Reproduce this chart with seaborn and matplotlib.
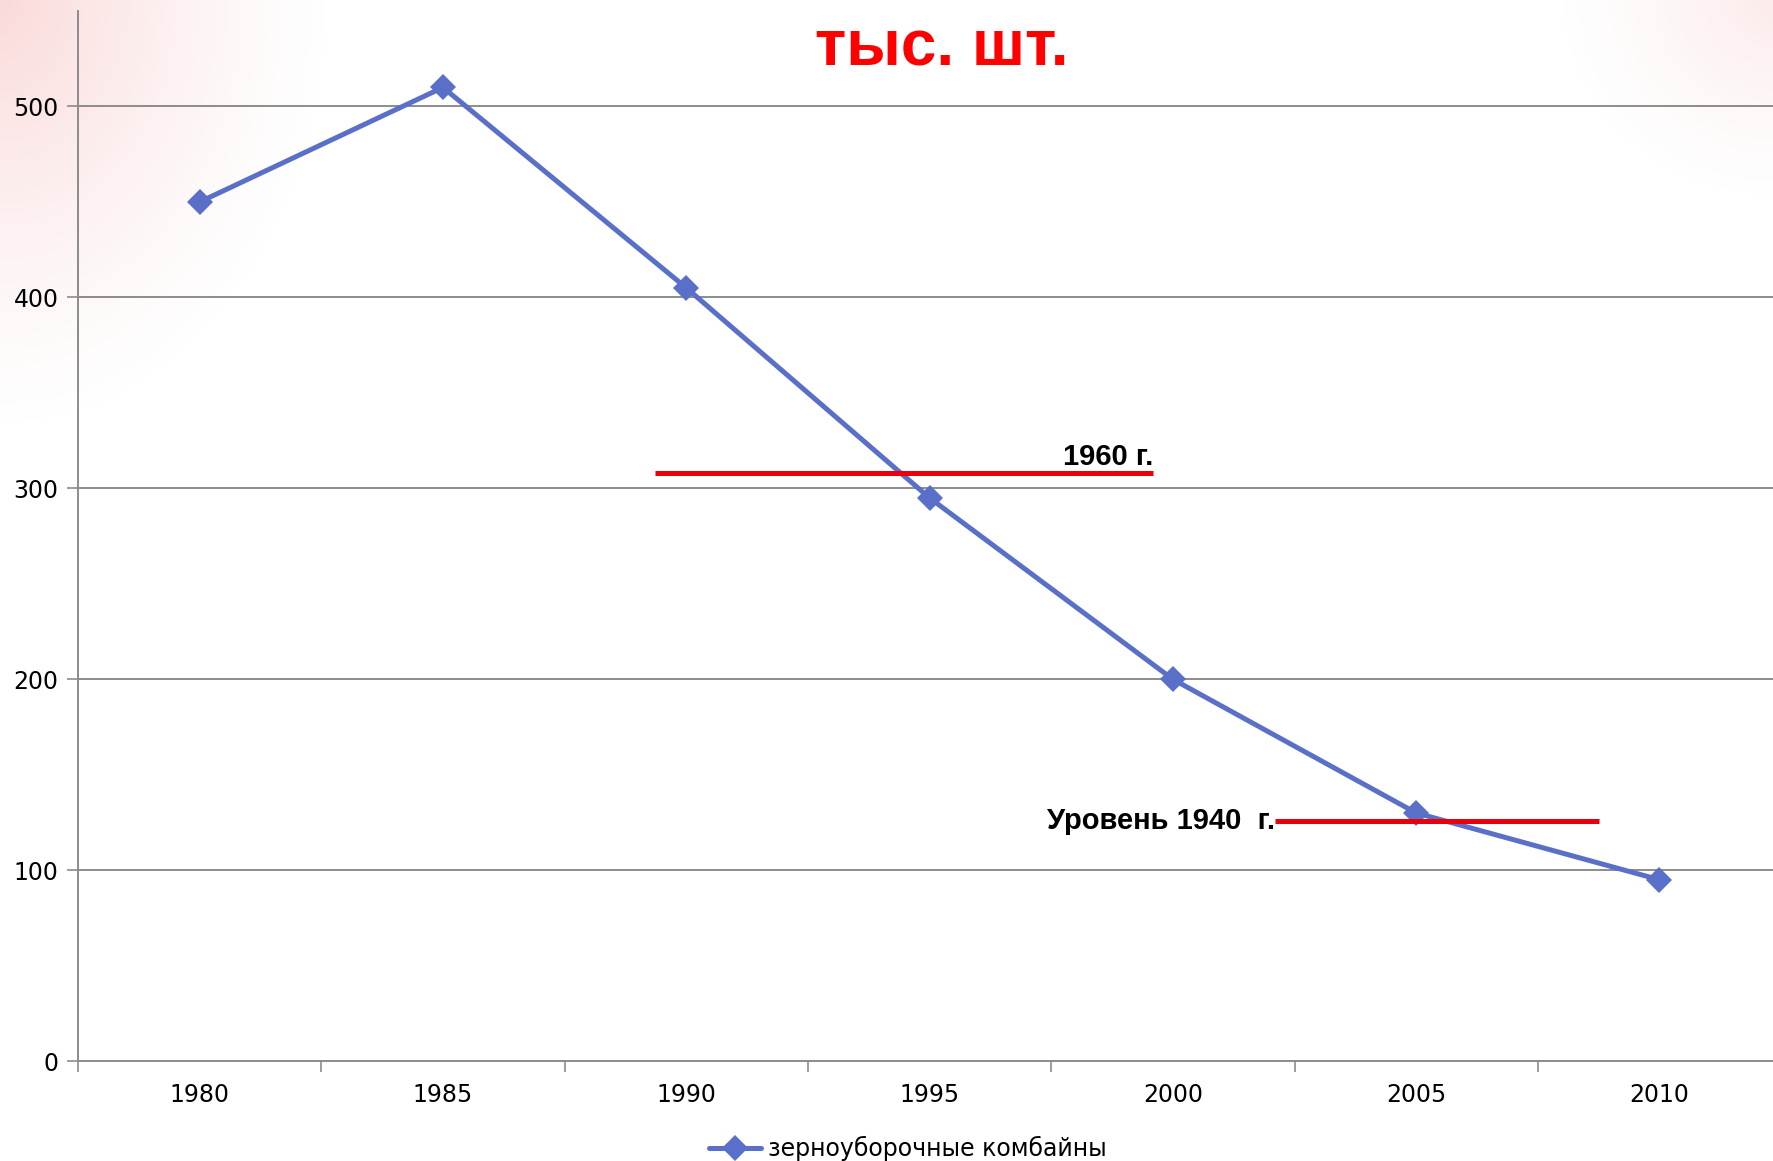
import numpy as np
import pandas as pd
import matplotlib
matplotlib.use("Agg")
import matplotlib.pyplot as plt
import seaborn as sns

# ─── DATA ─────────────────────────────────────────────
years = ["1980", "1985", "1990", "1995", "2000", "2005", "2010"]
combines = [450, 510, 405, 295, 200, 130, 95]   # тыс. шт.
series_name = "зерноуборочные комбайны"

level_labels = ["1960 г.", "Уровень 1940  г."]
level_values = [308, 126]
level_spans = [(1.87, 3.92), (4.42, 5.75)]   # in category units

unit_text = "тыс. шт."

df = pd.DataFrame({"year": years, "value": combines})

# ─── STYLE ────────────────────────────────────────────
sns.set_theme(style="white")
plt.rcParams["font.family"] = ["Liberation Sans Narrow", "DejaVu Sans"]
bold_font = ["Liberation Sans", "DejaVu Sans"]

fig = plt.figure(figsize=(17.74, 11.61), dpi=100)

# soft pink background in the top corners (pixel grid, 1/3 resolution)
bg = fig.add_axes([0, 0, 1, 1], zorder=-10)
h, w = 387, 591
yy, xx = np.mgrid[0:h, 0:w] * 3.0
left = np.clip(1 - np.hypot(xx / 330, yy / 430), 0, 1) ** 1.3 * 0.55
right = np.clip(1 - np.hypot((1774 - xx) / 220, yy / 200), 0, 1) ** 1.3 * 0.3
img = np.ones((h, w, 4))
img[..., 0] = 0.97
img[..., 1] = 0.74
img[..., 2] = 0.74
img[..., 3] = np.clip(left + right, 0, 1)
bg.imshow(img, extent=[0, 1, 0, 1], aspect="auto", origin="upper")
bg.set_xlim(0, 1)
bg.set_ylim(0, 1)
bg.axis("off")

ax = fig.add_axes([0.044, 0.086, 0.96, 0.9045])
ax.patch.set_alpha(0)

sns.lineplot(data=df, x="year", y="value", ax=ax, color="#5A6FC8",
             linewidth=3.6, marker="D", markersize=13, markeredgewidth=0,
             label=series_name, sort=False)

ax.set_xlim(-0.5, len(years) - 0.5)
ax.set_ylim(0, 550)
ax.set_yticks([0, 100, 200, 300, 400, 500])
ax.set_xlabel("")
ax.set_ylabel("")

# gridlines
ax.yaxis.grid(True, color="#8c8c8c", linewidth=1.4)
ax.xaxis.grid(False)
ax.set_axisbelow(True)

for s in ["top", "right"]:
    ax.spines[s].set_visible(False)
for s in ["left", "bottom"]:
    ax.spines[s].set_color("#8c8c8c")
    ax.spines[s].set_linewidth(1.4)

# category ticks: labels centred, tick marks on boundaries
ax.set_xticks(range(len(years)))
ax.set_xticklabels(years)
ax.set_xticks(np.arange(-0.5, len(years), 1.0), minor=True)
ax.tick_params(axis="x", which="major", length=0, pad=16, labelsize=17,
               labelcolor="black")
ax.tick_params(axis="x", which="minor", length=8, width=1.2, color="#8c8c8c",
               direction="out", bottom=True)
ax.tick_params(axis="y", length=8, width=1.2, color="#8c8c8c", labelsize=17,
               labelcolor="black", direction="out", left=True, pad=6)

# reference levels
for i, (lab, val, (x0, x1)) in enumerate(zip(level_labels, level_values, level_spans)):
    ax.hlines(val, x0, x1, color="#E8000B", linewidth=3.6, zorder=5)
    if i == 0:
        ax.text(x1, val + 1, lab, ha="right", va="bottom", fontsize=21,
                fontweight="bold", color="black", family=bold_font)
    else:
        ax.text(x0, val, lab, ha="right", va="center", fontsize=21,
                fontweight="bold", color="black", family=bold_font)

fig.text(0.531, 0.958, unit_text, ha="center", va="center", color="#FF0000",
         fontsize=46, fontweight="bold", family=bold_font)

leg = ax.legend(loc="center", bbox_to_anchor=(0.512, 0.011),
                bbox_transform=fig.transFigure, frameon=False, fontsize=17,
                handlelength=2.2, handletextpad=0.3)
for t in leg.get_texts():
    t.set_color("black")

fig.savefig("out.png", dpi=100)
